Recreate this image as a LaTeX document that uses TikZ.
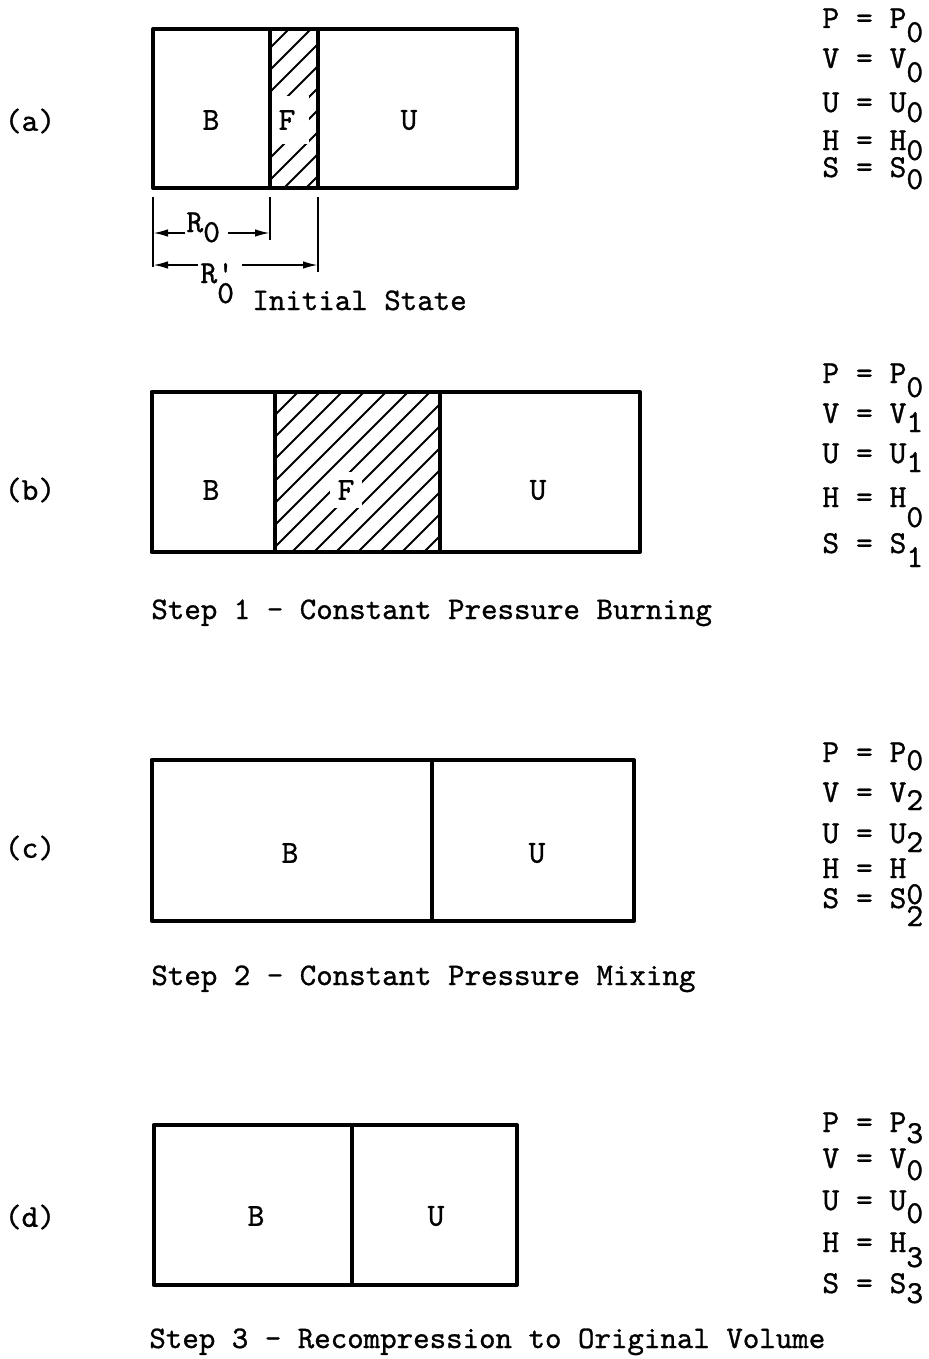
\documentclass[tikz,border=0pt]{standalone}
\usepackage{fontspec}
\usetikzlibrary{arrows.meta}
\font\twA="[lmmono10-regular.otf]:embolden=0.9" at 16pt
\font\twB="[lmmono10-regular.otf]:embolden=0.9" at 15.7pt
\begin{document}
\begin{tikzpicture}[x=0.5pt,y=-0.5pt,
  tt/.style={font=\twA, inner sep=0pt},
  captext/.style={font=\twB, inner sep=0pt, anchor=base west},
  lbl/.style={tt, anchor=center},
  eq/.style={tt, anchor=base west},
  box/.style={line width=2pt, line join=round},
  wall/.style={line width=1.6pt},
  hatch/.style={line width=1pt},
  dim/.style={line width=1pt},
  arr/.style={dim, -{Latex[length=7.5pt,width=3.8pt]}},
]
\useasboundingbox (0,0) rectangle (929,1359);
\newcommand\eqn[5]{\node[eq] (#1) at (822,#2) {#3 = #3\raisebox{-#5pt}{#4}};}

% ---------------- (a) ----------------
\begin{scope}
  \clip (270,29) rectangle (318,188);
  \foreach \c in {108,130,...,330} \draw[hatch] (\c,188) -- ++(160,-160);
\end{scope}
\node[lbl, fill=white, minimum width=22pt, minimum height=24pt] (aF) at (287,120) {F};
\draw[box] (153,29) rectangle (517,188);
\draw[wall] (270,29) -- (270,188);
\draw[wall] (318,29) -- (318,188);
\node[lbl] (aB) at (211,120) {B};
\node[lbl] (aU) at (409,120) {U};
\node[lbl] (alab) at (30,121) {(a)};
% dimensions
\coordinate (d0t) at (153,197); \coordinate (d0b) at (153,267);
\coordinate (d1t) at (270,197); \coordinate (d1b) at (270,240);
\coordinate (d2t) at (318,197); \coordinate (d2b) at (318,272);
\draw[dim] (d0t) -- (d0b);
\draw[dim] (d1t) -- (d1b);
\draw[dim] (d2t) -- (d2b);
\node[eq] (r0) at (186,232) {R\raisebox{-5pt}{0}};
\coordinate (a1s) at (185,233); \coordinate (a1e) at (153,233);
\coordinate (a2s) at (228,233); \coordinate (a2e) at (270,233);
\draw[arr] (a1s) -- (a1e);
\draw[arr] (a2s) -- (a2e);
\node[eq] (r0p) at (200,283) {R\rlap{'}\raisebox{-10pt}{0}};
\coordinate (a3s) at (198,265); \coordinate (a3e) at (153,265);
\coordinate (a4s) at (242,265); \coordinate (a4e) at (318,265);
\draw[arr] (a3s) -- (a3e);
\draw[arr] (a4s) -- (a4e);
\node[captext] (init) at (252,310) {Initial State};
\eqn{aP}{28}{P}{0}{7}
\eqn{aV}{68}{V}{0}{7}
\eqn{aU2}{112}{U}{0}{5}
\eqn{aH}{150}{H}{0}{5}
\eqn{aS}{177}{S}{0}{6}

% ---------------- (b) ----------------
\begin{scope}
  \clip (275,392) rectangle (440,552);
  \foreach \c in {116,138,...,450} \draw[hatch] (\c,552) -- ++(170,-170);
\end{scope}
\node[lbl, fill=white, inner sep=4pt] (bF) at (346,490) {F};
\draw[box] (151.5,392) rectangle (640,552);
\draw[wall] (275,392) -- (275,552);
\draw[wall] (440,392) -- (440,552);
\node[lbl] (bB) at (211,490) {B};
\node[lbl] (bU) at (538,490) {U};
\node[lbl] (blab) at (30,490) {(b)};
\node[captext] (bcap) at (151,619) {Step 1 - Constant Pressure Burning};
\eqn{bP}{383}{P}{0}{7}
\eqn{bV}{423}{V}{1}{4.5}
\eqn{bU2}{463}{U}{1}{4.5}
\eqn{bH}{507}{H}{0}{10}
\eqn{bS}{553}{S}{1}{7}

% ---------------- (c) ----------------
\draw[box] (151.5,760) rectangle (634,921);
\draw[wall] (432,760) -- (432,921);
\node[lbl] (cB) at (290,853) {B};
\node[lbl] (cU) at (537,853) {U};
\node[lbl] (clab) at (30,848) {(c)};
\node[captext] (ccap) at (151,985) {Step 2 - Constant Pressure Mixing};
\eqn{cP}{762}{P}{0}{4}
\eqn{cV}{802}{V}{2}{4}
\eqn{cU2}{843}{U}{2}{4.5}
\eqn{cH}{878}{H}{0}{13}
\eqn{cS}{908}{S}{2}{9}

% ---------------- (d) ----------------
\draw[box] (153.5,1125) rectangle (517,1285);
\draw[wall] (352,1125) -- (352,1285);
\node[lbl] (dB) at (256,1216) {B};
\node[lbl] (dU) at (436,1216) {U};
\node[lbl] (dlab) at (30,1217) {(d)};
\node[captext] (dcap) at (149,1348) {Step 3 - Recompression to Original Volume};
\eqn{dP}{1132}{P}{3}{5.5}
\eqn{dV}{1168}{V}{0}{6}
\eqn{dU2}{1210}{U}{0}{6.5}
\eqn{dH}{1252}{H}{3}{7.5}
\eqn{dS}{1293}{S}{3}{5}
\end{tikzpicture}
\end{document}
